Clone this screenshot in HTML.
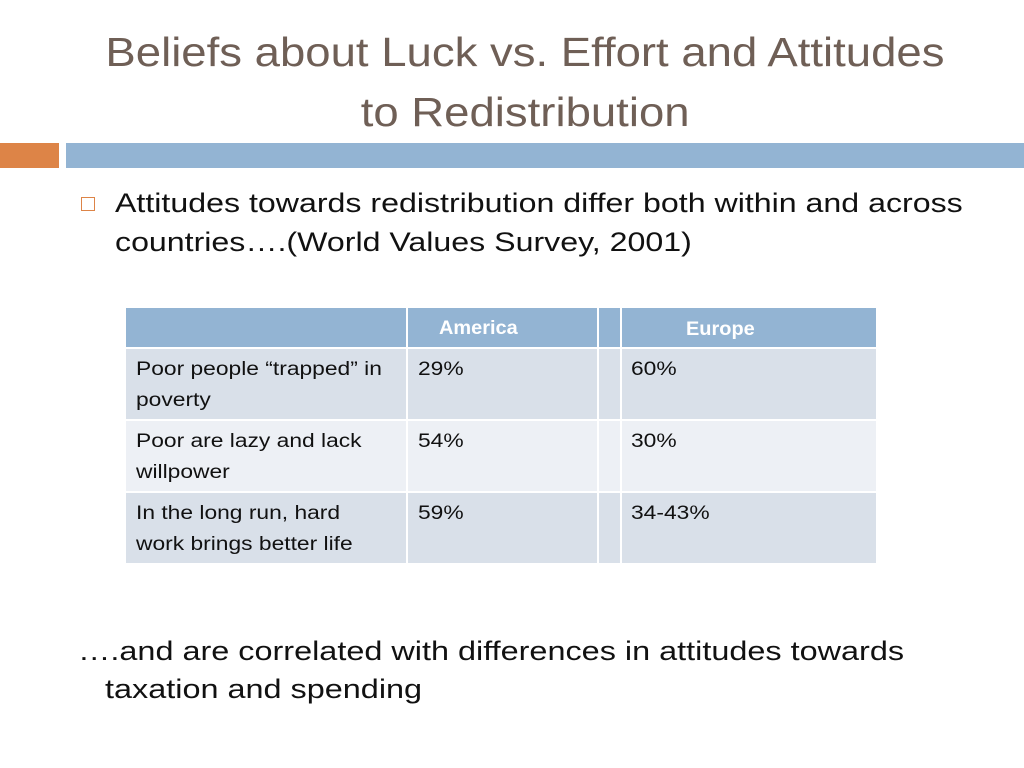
<!DOCTYPE html>
<html><head><meta charset="utf-8"><style>
body{margin:0;width:1024px;height:768px;background:#fff;position:relative;overflow:hidden;font-family:"Liberation Sans",sans-serif;}
.abs{position:absolute;}
.sx{transform-origin:0 0;white-space:nowrap;}
.cell{position:absolute;}
.t{position:absolute;font-size:19px;line-height:31px;color:#111;white-space:nowrap;transform:scaleX(1.2);transform-origin:0 0;}
</style></head><body>
<div class="abs" style="left:0;width:1050px;top:22px;text-align:center;color:#6f5f56;font-size:41px;line-height:60px;"><span style="display:inline-block;transform:scaleX(1.11)">Beliefs about Luck vs. Effort and Attitudes</span><br><span style="display:inline-block;transform:scaleX(1.11)">to Redistribution</span></div>
<div class="abs" style="left:0;top:143px;width:59px;height:25px;background:#dd8447"></div>
<div class="abs" style="left:66px;top:143px;width:958px;height:25px;background:#93b4d3"></div>
<div class="abs" style="left:81px;top:197px;width:12px;height:12px;border:1.5px solid #dd8447"></div>
<div class="abs sx" style="left:115px;top:184px;font-size:27px;line-height:39px;color:#111;transform:scaleX(1.19)">Attitudes towards redistribution differ both within and across<br>countries….(World Values Survey, 2001)</div>
<div class="abs" style="left:126px;top:308px;width:750px;height:255px;">
<div class="cell" style="left:0;top:0;width:750px;height:39px;background:#93b4d3"></div>
<div class="cell" style="left:0;top:41px;width:750px;height:70px;background:#d9e0e9"></div>
<div class="cell" style="left:0;top:113px;width:750px;height:70px;background:#edf0f5"></div>
<div class="cell" style="left:0;top:185px;width:750px;height:70px;background:#d9e0e9"></div>
<div class="cell" style="left:280px;top:0;width:2px;height:255px;background:#fff"></div>
<div class="cell" style="left:471px;top:0;width:2px;height:255px;background:#fff"></div>
<div class="cell" style="left:494px;top:0;width:2px;height:255px;background:#fff"></div>
<div class="t" style="left:313px;top:5px;color:#fff;font-weight:bold;transform:scaleX(1.05)">America</div>
<div class="t" style="left:560px;top:6px;color:#fff;font-weight:bold;transform:scaleX(1.05)">Europe</div>
<div class="t" style="left:10px;top:46px">Poor people “trapped” in<br>poverty</div>
<div class="t" style="left:292px;top:46px">29%</div>
<div class="t" style="left:505px;top:46px">60%</div>
<div class="t" style="left:10px;top:118px">Poor are lazy and lack<br>willpower</div>
<div class="t" style="left:292px;top:118px">54%</div>
<div class="t" style="left:505px;top:118px">30%</div>
<div class="t" style="left:10px;top:190px">In the long run, hard<br>work brings better life</div>
<div class="t" style="left:292px;top:190px">59%</div>
<div class="t" style="left:505px;top:190px">34-43%</div>
</div>
<div class="abs sx" style="left:78px;top:632px;font-size:27px;line-height:38px;color:#111;transform:scaleX(1.2)">….and are correlated with differences in attitudes towards<br>&nbsp;&nbsp;&nbsp;taxation and spending</div>
</body></html>
